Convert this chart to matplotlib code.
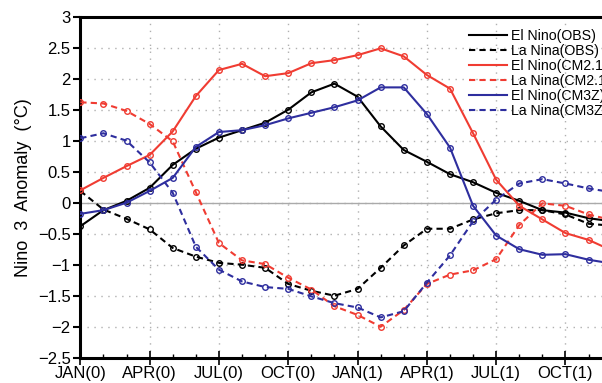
import matplotlib
matplotlib.use("Agg")
import matplotlib.pyplot as plt
from matplotlib.ticker import MultipleLocator

plt.rcParams['font.family'] = ['Liberation Sans', 'DejaVu Sans']

# months from JAN(0) to DEC(1)
months = list(range(24))
tick_pos = [0, 3, 6, 9, 12, 15, 18, 21]
tick_labels = ["JAN(0)", "APR(0)", "JUL(0)", "OCT(0)", "JAN(1)", "APR(1)", "JUL(1)", "OCT(1)"]

el_obs = [-0.38, -0.12, 0.03, 0.24, 0.61, 0.87, 1.05, 1.17, 1.29, 1.50, 1.78, 1.92,
          1.71, 1.23, 0.85, 0.66, 0.46, 0.33, 0.16, 0.03, -0.12, -0.16, -0.25, -0.30]
la_obs = [0.19, -0.11, -0.26, -0.43, -0.73, -0.87, -0.97, -1.00, -1.05, -1.31, -1.42, -1.50,
          -1.39, -1.05, -0.69, -0.42, -0.42, -0.27, -0.17, -0.12, -0.12, -0.19, -0.34, -0.37]
el_cm21 = [0.20, 0.40, 0.59, 0.77, 1.15, 1.72, 2.14, 2.24, 2.04, 2.09, 2.25, 2.30,
           2.38, 2.49, 2.36, 2.06, 1.84, 1.12, 0.37, -0.05, -0.27, -0.49, -0.60, -0.77]
la_cm21 = [1.62, 1.60, 1.48, 1.27, 0.99, 0.17, -0.65, -0.93, -0.99, -1.21, -1.40, -1.67,
           -1.81, -2.00, -1.73, -1.31, -1.16, -1.09, -0.91, -0.36, -0.01, -0.05, -0.19, -0.28]
el_cm3z = [-0.18, -0.12, 0.00, 0.19, 0.40, 0.90, 1.14, 1.17, 1.25, 1.36, 1.45, 1.54,
           1.65, 1.86, 1.86, 1.43, 0.89, -0.05, -0.53, -0.75, -0.84, -0.83, -0.92, -0.98]
la_cm3z = [1.04, 1.12, 1.00, 0.65, 0.16, -0.71, -1.08, -1.27, -1.36, -1.39, -1.51, -1.62,
           -1.69, -1.85, -1.75, -1.29, -0.85, -0.30, 0.05, 0.31, 0.38, 0.31, 0.23, 0.17]

red = "#f03c32"
blue = "#2e2e9e"

fig = plt.figure(figsize=(6.02, 3.83), dpi=100)
ax = fig.add_axes([0.1334, 0.066, 1.0 - 0.1334, 0.8904])

ax.axhline(0, color="#aaaaaa", lw=1, zorder=1)

series = [
    (el_obs, "k", "-", "El Nino(OBS)"),
    (la_obs, "k", "--", "La Nina(OBS)"),
    (el_cm21, red, "-", "El Nino(CM2.1)"),
    (la_cm21, red, "--", "La Nina(CM2.1)"),
    (el_cm3z, blue, "-", "El Nino(CM3Z)"),
    (la_cm3z, blue, "--", "La Nina(CM3Z)"),
]
for vals, col, ls, lab in series:
    line, = ax.plot(months, vals, color=col, ls=ls, lw=1.5, marker="o", ms=4,
                    mfc="none", mew=1.0, label=lab, zorder=3)
    if ls == "--":
        line.set_dashes((3, 2))

ax.set_xlim(0, 22.58)
ax.set_ylim(-2.5, 3)
ax.set_xticks(tick_pos)
ax.set_xticklabels(tick_labels)
ax.xaxis.set_minor_locator(MultipleLocator(1))
ax.yaxis.set_major_locator(MultipleLocator(0.5))
ax.set_yticklabels([("%g" % v).replace("-", "\u2212") for v in ax.get_yticks()])

ax.grid(True, which="major", color="#b0b0b0", ls=(0, (1, 4)), lw=1)
ax.set_axisbelow(True)

for s in ["left", "bottom", "top"]:
    ax.spines[s].set_linewidth(2.2)
ax.spines["right"].set_visible(False)

ax.tick_params(axis="y", which="major", direction="out", length=5, width=1.5, labelsize=12, pad=2)
ax.tick_params(axis="x", which="major", direction="inout", length=10, width=1.2, labelsize=12, pad=1)
ax.tick_params(axis="x", which="minor", direction="in", length=3, width=1)

ax.set_ylabel("Nino  3  Anomaly  (°C)", fontsize=13, labelpad=4)

leg = ax.legend(loc="upper left", bbox_to_anchor=(0.745, 0.965), frameon=False, fontsize=10.2,
                handlelength=2.7, handletextpad=0.3, labelspacing=0.08, borderpad=0,
                borderaxespad=0)
for h in leg.get_lines():
    h.set_marker("")

fig.savefig("out.png", dpi=100)
